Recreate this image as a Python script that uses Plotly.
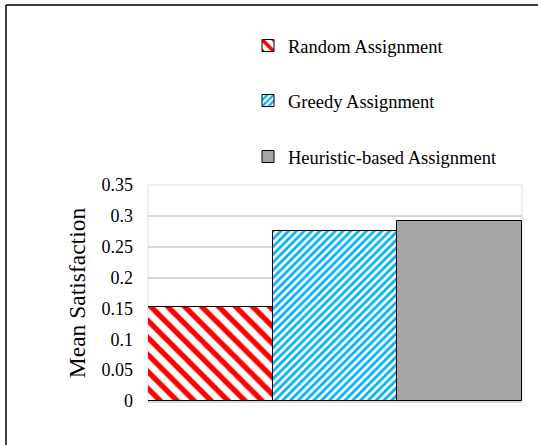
import plotly.graph_objects as go

# Mean satisfaction per assignment strategy
series_names = ["Random Assignment", "Greedy Assignment", "Heuristic-based Assignment"]
mean_satisfaction = [0.152, 0.276, 0.292]
category = [""]

y_tick_vals = [0, 0.05, 0.1, 0.15, 0.2, 0.25, 0.3, 0.35]
y_tick_text = ["0", "0.05", "0.1", "0.15", "0.2", "0.25", "0.3", "0.35"]

FONT = "Liberation Serif, Times New Roman, serif"

styles = [
    dict(color="white", pattern=dict(shape="\\", fgcolor="#FF0000", bgcolor="white",
                                     size=12, solidity=0.45, fillmode="replace")),
    dict(color="white", pattern=dict(shape="/", fgcolor="#00B0F0", bgcolor="white",
                                     size=5.5, solidity=0.5, fillmode="replace")),
    dict(color="#A6A6A6"),
]
legend_ids = ["legend", "legend2", "legend3"]

fig = go.Figure()
for name, val, st, lg in zip(series_names, mean_satisfaction, styles, legend_ids):
    fig.add_trace(go.Bar(
        x=category, y=[val], name=name, legend=lg, showlegend=True,
        marker=dict(**st, line=dict(color="#000000", width=1)),
    ))

# plot area spans x 148..522, y 185..401 px
W, H = 538, 445
L, R, T, B = 148, 16, 185, 44
pw, ph = W - L - R, H - T - B


def px_x(x):
    return (x - L) / pw


def px_y(y):
    return (H - B - y) / ph


legend_common = dict(font=dict(family=FONT, size=18.5, color="#000000"),
                      bgcolor="rgba(0,0,0,0)", xanchor="left", yanchor="middle",
                      itemclick=False, itemdoubleclick=False)

fig.update_layout(
    width=W, height=H,
    margin=dict(l=L, r=R, t=T, b=B, autoexpand=False),
    paper_bgcolor="white", plot_bgcolor="white",
    showlegend=True,
    barmode="group", bargap=0, bargroupgap=0,
    legend=dict(**legend_common, x=px_x(248), y=px_y(46)),
    legend2=dict(**legend_common, x=px_x(248), y=px_y(101)),
    legend3=dict(**legend_common, x=px_x(248), y=px_y(157)),
    font=dict(family=FONT, color="#000000"),
    xaxis=dict(showticklabels=False, ticks="", showgrid=False, zeroline=False,
               showline=True, linecolor="#D9D9D9", linewidth=2, fixedrange=True),
    yaxis=dict(range=[0, 0.35], tickvals=y_tick_vals, ticktext=y_tick_text,
               tickfont=dict(family=FONT, size=18, color="#000000"),
               showgrid=True, gridcolor="#D9D9D9", gridwidth=1.5,
               zeroline=False, showline=False, ticks="",
               ticklabelstandoff=14, automargin=False,
               title=dict(text="Mean Satisfaction", standoff=9,
                          font=dict(family=FONT, size=23.5, color="#000000")),
               fixedrange=True),
    shapes=[
        # faint plot-area frame
        dict(type="rect", xref="paper", yref="paper", x0=0, x1=1, y0=0, y1=1,
             line=dict(color="#E4EAF1", width=1.5), layer="below"),
        # chart frame (left and top edges)
        dict(type="line", xref="paper", yref="paper",
             x0=px_x(6), x1=px_x(6), y0=px_y(5), y1=px_y(H + 5),
             line=dict(color="#000000", width=1.5)),
        dict(type="line", xref="paper", yref="paper",
             x0=px_x(6), x1=px_x(W + 5), y0=px_y(5), y1=px_y(5),
             line=dict(color="#000000", width=1.5)),
    ],
)

fig.write_html("out.html", config={"displayModeBar": False})
